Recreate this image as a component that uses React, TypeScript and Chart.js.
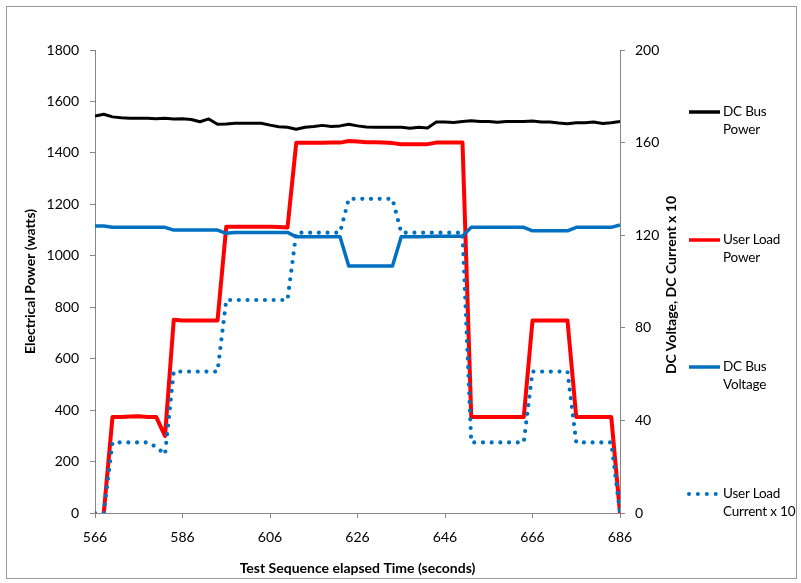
import React, { useEffect, useRef } from 'react';
import { Chart, registerables } from 'chart.js';

Chart.register(...registerables);

const times = [
  566, 568, 570, 572, 574, 576, 578, 580, 582, 584,
  586, 588, 590, 592, 594, 596, 598, 600, 602, 604,
  606, 608, 610, 612, 614, 616, 618, 620, 622, 624,
  626, 628, 630, 632, 634, 636, 638, 640, 642, 644,
  646, 648, 650, 652, 654, 656, 658, 660, 662, 664,
  666, 668, 670, 672, 674, 676, 678, 680, 682, 684,
  686,
];

const dcBusPower = [
  1543, 1550, 1540, 1537, 1535, 1535, 1535, 1533, 1535, 1532,
  1533, 1530, 1521, 1532, 1511, 1512, 1515, 1515, 1515, 1515,
  1508, 1502, 1500, 1492, 1500, 1503, 1507, 1503, 1505, 1511,
  1505, 1501, 1500, 1500, 1500, 1500, 1496, 1500, 1497, 1520,
  1520, 1518, 1522, 1525, 1522, 1522, 1519, 1522, 1522, 1522,
  1524, 1520, 1520, 1516, 1513, 1517, 1517, 1520, 1514, 1517,
  1522,
];

const userLoadPower: (number | null)[] = [
  null, 0, 373, 373, 375, 376, 373, 373, 300, 751,
  748, 748, 748, 748, 748, 1113, 1113, 1113, 1113, 1113,
  1113, 1112, 1110, 1439, 1439, 1439, 1439, 1440, 1440, 1446,
  1444, 1441, 1441, 1440, 1438, 1434, 1434, 1434, 1434, 1440,
  1440, 1440, 1440, 373, 373, 373, 373, 373, 373, 373,
  748, 748, 748, 748, 748, 373, 373, 373, 373, 373,
  0,
];

const dcBusVoltage = [
  124.0, 124.0, 123.4, 123.4, 123.4, 123.4, 123.4, 123.4, 123.4, 122.2,
  122.2, 122.2, 122.2, 122.2, 122.2, 120.8, 121.2, 121.2, 121.2, 121.2,
  121.2, 121.2, 121.2, 119.3, 119.3, 119.3, 119.3, 119.3, 119.3, 106.7,
  106.7, 106.7, 106.7, 106.7, 106.7, 119.3, 119.3, 119.3, 119.4, 119.5,
  119.6, 119.6, 119.6, 123.4, 123.4, 123.4, 123.4, 123.4, 123.4, 123.4,
  121.9, 121.9, 121.9, 121.9, 121.9, 123.4, 123.4, 123.4, 123.4, 123.4,
  124.4,
];

const userLoadCurrentX10 = [
  0, 0, 30.5, 30.5, 30.5, 30.5, 30.5, 28.5, 25.3, 61.1,
  61.1, 61.1, 61.1, 61.1, 61.1, 92.0, 92.0, 92.0, 92.0, 92.0,
  92.0, 92.0, 92.0, 121.1, 121.1, 121.1, 121.1, 121.1, 121.1, 135.7,
  135.7, 135.7, 135.7, 135.7, 135.7, 121.1, 121.1, 121.1, 121.1, 121.1,
  121.1, 121.1, 121.1, 30.5, 30.5, 30.5, 30.5, 30.5, 30.5, 30.5,
  61.1, 61.1, 61.1, 61.1, 61.1, 30.5, 30.5, 30.5, 30.5, 30.5,
  0,
];

const xTicks = [566, 586, 606, 626, 646, 666, 686];
const leftTicks = [0, 200, 400, 600, 800, 1000, 1200, 1400, 1600, 1800];
const rightTicks = [0, 40, 80, 120, 160, 200];

const seriesNames = [
  ['DC Bus', 'Power'],
  ['User Load', 'Power'],
  ['DC Bus', 'Voltage'],
  ['User Load', 'Current x 10'],
];
const seriesColors = ['#000000', '#FF0000', '#0070C0', '#0070C0'];

const FONT = 'Lato, "Open Sans", "Liberation Sans", sans-serif';
const AXIS = '#868686';

function pts(values: (number | null)[]) {
  return times.map((t, i) => ({ x: t, y: values[i] }));
}

const plain = (v: any) => String(v);

export default function App() {
  const ref = useRef<HTMLCanvasElement | null>(null);

  useEffect(() => {
    if (!ref.current) return;
    const tickFont = { family: FONT, size: 14 };
    const titleFont = { family: FONT, size: 14, weight: 'bold' as const };
    const chart = new Chart(ref.current, {
      type: 'line',
      data: {
        datasets: [
          {
            label: seriesNames[0].join(' '),
            data: pts(dcBusPower),
            borderColor: seriesColors[0],
            borderWidth: 3,
            yAxisID: 'y',
            order: 4,
          },
          {
            label: seriesNames[1].join(' '),
            data: pts(userLoadPower),
            borderColor: seriesColors[1],
            borderWidth: 4,
            yAxisID: 'y',
            order: 3,
          },
          {
            label: seriesNames[2].join(' '),
            data: pts(dcBusVoltage),
            borderColor: seriesColors[2],
            borderWidth: 3.5,
            yAxisID: 'y1',
            order: 2,
          },
          {
            label: seriesNames[3].join(' '),
            data: pts(userLoadCurrentX10),
            borderColor: seriesColors[3],
            borderWidth: 4.2,
            borderDash: [0, 8.7],
            borderCapStyle: 'round',
            yAxisID: 'y1',
            order: 1,
          },
        ] as any,
      },
      options: {
        animation: false,
        responsive: false,
        events: [],
        elements: {
          point: { radius: 0, hoverRadius: 0 },
          line: { tension: 0, borderJoinStyle: 'round', fill: false },
        },
        layout: { padding: { left: 0, right: 121, top: 50, bottom: 0 } },
        plugins: { legend: { display: false }, tooltip: { enabled: false } },
        scales: {
          x: {
            type: 'linear',
            min: xTicks[0],
            max: xTicks[xTicks.length - 1],
            afterBuildTicks: (s: any) => {
              s.ticks = xTicks.map((v) => ({ value: v }));
            },
            afterFit: (s: any) => {
              s.height = 70;
            },
            grid: { drawOnChartArea: false, tickLength: 5, color: AXIS },
            border: { color: AXIS, width: 1 },
            ticks: { font: tickFont, color: '#000', padding: 11, autoSkip: false, maxRotation: 0, callback: plain },
            title: {
              display: true,
              text: 'Test Sequence elapsed Time (seconds)',
              font: titleFont,
              color: '#000',
              padding: { top: 0, bottom: 6.6 },
            },
          },
          y: {
            type: 'linear',
            position: 'left',
            min: leftTicks[0],
            max: leftTicks[leftTicks.length - 1],
            afterBuildTicks: (s: any) => {
              s.ticks = leftTicks.map((v) => ({ value: v }));
            },
            afterFit: (s: any) => {
              s.width = 95;
            },
            grid: { drawOnChartArea: false, tickLength: 5, color: AXIS },
            border: { color: AXIS, width: 1 },
            ticks: { font: tickFont, color: '#000', padding: 11, callback: plain },
            title: {
              display: true,
              text: 'Electrical Power (watts)',
              font: titleFont,
              color: '#000',
              padding: { top: 21.6, bottom: 0 },
            },
          },
          y1: {
            type: 'linear',
            position: 'right',
            min: rightTicks[0],
            max: rightTicks[rightTicks.length - 1],
            afterBuildTicks: (s: any) => {
              s.ticks = rightTicks.map((v) => ({ value: v }));
            },
            afterFit: (s: any) => {
              s.width = 60;
            },
            grid: { drawOnChartArea: false, tickLength: 5, color: AXIS },
            border: { color: AXIS, width: 1 },
            ticks: { font: tickFont, color: '#000', padding: 10, callback: plain },
          },
        },
      } as any,
    });
    return () => chart.destroy();
  }, []);

  const legendY = [112.3, 240, 366.7, 494.3];
  const lh = 17.7;

  return (
    <div style={{ position: 'absolute', left: 0, top: 0, width: 801, height: 583, background: '#fff', fontFamily: FONT }}>
      <div
        style={{
          position: 'absolute',
          left: 6,
          top: 6,
          width: 789,
          height: 571,
          border: '1px solid #999',
        }}
      />
      <canvas ref={ref} width={801} height={583} style={{ position: 'absolute', left: 0, top: 0, width: 801, height: 583 }} />
      <div
        style={{
          position: 'absolute',
          left: 671 - 150,
          top: 285 - 10,
          width: 300,
          height: 20,
          lineHeight: '20px',
          textAlign: 'center',
          fontWeight: 'bold',
          fontSize: 14,
          color: '#000',
          transform: 'rotate(-90deg)',
          transformOrigin: '50% 50%',
          whiteSpace: 'nowrap',
        }}
      >
        DC Voltage, DC Current x 10
      </div>
      {seriesNames.map((lines, i) => (
        <React.Fragment key={i}>
          <svg
            width={40}
            height={10}
            style={{ position: 'absolute', left: 684, top: legendY[i] - 5 }}
          >
            <line
              x1={5}
              y1={5}
              x2={i === 3 ? 34 : 36}
              y2={5}
              stroke={seriesColors[i]}
              strokeWidth={i === 3 ? 4 : 3.5}
              strokeLinecap={i === 3 ? 'round' : 'butt'}
              strokeDasharray={i === 3 ? '0 8.9' : undefined}
            />
          </svg>
          <div
            style={{
              position: 'absolute',
              left: 723,
              top: legendY[i] - lh / 2,
              fontSize: 13.5,
              letterSpacing: -0.2,
              lineHeight: lh + 'px',
              color: '#000',
              whiteSpace: 'nowrap',
            }}
          >
            {lines[0]}
            <br />
            {lines[1]}
          </div>
        </React.Fragment>
      ))}
    </div>
  );
}
